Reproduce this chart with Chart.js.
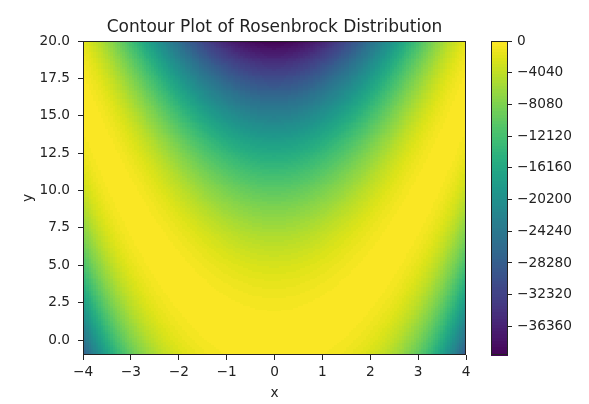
<!DOCTYPE html>
<html>
<head>
<meta charset="utf-8">
<script src="https://cdn.jsdelivr.net/npm/chart.js@4/dist/chart.umd.min.js"></script>
<style>
  html,body{margin:0;padding:0;background:#fff;}
  #wrap{width:589px;height:404px;position:relative;}
</style>
</head>
<body>
<div id="wrap"><canvas id="c" width="589" height="404"></canvas></div>
<script>
// ---- data ----
const chartTitle = "Contour Plot of Rosenbrock Distribution";
const xLabel = "x";
const yLabel = "y";
const xRange = [-4, 4];
const yRange = [-1, 20];
const xTicks = [-4, -3, -2, -1, 0, 1, 2, 3, 4];
const yTicks = [0, 2.5, 5, 7.5, 10, 12.5, 15, 17.5, 20];
const cbTicks = [0, -4040, -8080, -12120, -16160, -20200, -24240, -28280, -32320, -36360];
const cbRange = [-40001, 0];
const rosenA = 1;
const rosenB = 100;
const gridNX = 160;
const gridNY = 168;
const nLevels = 100;

// viridis palette (colour map)
const viridis = ["#440154","#481467","#482576","#453781","#404688","#39558c","#33638d","#2d718e","#287d8e","#238a8d","#1f968b","#20a386","#29af7f","#3dbc74","#56c667","#75d054","#95d840","#bade28","#dde318","#fde725"];

// grid of the plotted surface: z = -((a-x)^2 + b(y-x^2)^2)
const surface = [];
for (let j = 0; j < gridNY; j++) {
  for (let i = 0; i < gridNX; i++) {
    const x = xRange[0] + (xRange[1] - xRange[0]) * i / (gridNX - 1);
    const y = yRange[0] + (yRange[1] - yRange[0]) * j / (gridNY - 1);
    const z = -((rosenA - x) ** 2 + rosenB * (y - x * x) ** 2);
    surface.push({x, y, z});
  }
}

function hex2rgb(h){return [parseInt(h.substr(1,2),16),parseInt(h.substr(3,2),16),parseInt(h.substr(5,2),16)];}
const vir = viridis.map(hex2rgb);
function cmap(t){
  t = Math.max(0, Math.min(1, t));
  const p = t * (vir.length - 1);
  const k = Math.min(vir.length - 2, Math.floor(p));
  const f = p - k;
  const a = vir[k], b = vir[k+1];
  return `rgb(${Math.round(a[0]+(b[0]-a[0])*f)},${Math.round(a[1]+(b[1]-a[1])*f)},${Math.round(a[2]+(b[2]-a[2])*f)})`;
}
function levelColor(z){
  const t = (z - cbRange[0]) / (cbRange[1] - cbRange[0]);
  let lv = Math.floor(t * nLevels);
  lv = Math.max(0, Math.min(nLevels - 1, lv));
  return cmap((lv + 0.5) / nLevels);
}
const levelColors = [];
for (let l = 0; l < nLevels; l++) levelColors.push(cmap((l + 0.5) / nLevels));

const FONT = "'DejaVu Sans', sans-serif";
const TXT = "#222";
const tickFont = {family: FONT, size: 13.7};

const heatmapPlugin = {
  id: 'heatmap',
  beforeDatasetsDraw(chart){
    const ctx = chart.ctx, xs = chart.scales.x, ys = chart.scales.y, ca = chart.chartArea;
    const data = chart.data.datasets[0].data;
    const dx = (xRange[1] - xRange[0]) / (gridNX - 1) / 2;
    const dy = (yRange[1] - yRange[0]) / (gridNY - 1) / 2;
    ctx.save();
    ctx.beginPath(); ctx.rect(ca.left, ca.top, ca.width, ca.height); ctx.clip();
    for (const p of data) {
      const x0 = xs.getPixelForValue(p.x - dx), x1 = xs.getPixelForValue(p.x + dx);
      const y0 = ys.getPixelForValue(p.y + dy), y1 = ys.getPixelForValue(p.y - dy);
      ctx.fillStyle = levelColor(p.z);
      ctx.fillRect(Math.floor(x0), Math.floor(y0), Math.ceil(x1 - x0) + 1, Math.ceil(y1 - y0) + 1);
    }
    ctx.restore();
    // frame
    ctx.save();
    ctx.strokeStyle = '#222'; ctx.lineWidth = 1;
    ctx.strokeRect(ca.left + 0.5, ca.top + 0.5, ca.width - 1, ca.height - 1);
    ctx.restore();
    // colorbar
    const cb = chart.scales.cb;
    const w = 17, L = cb.left - w;
    ctx.save();
    for (let l = 0; l < nLevels; l++) {
      const v0 = cbRange[0] + (cbRange[1] - cbRange[0]) * l / nLevels;
      const v1 = cbRange[0] + (cbRange[1] - cbRange[0]) * (l + 1) / nLevels;
      const p0 = cb.getPixelForValue(v0), p1 = cb.getPixelForValue(v1);
      ctx.fillStyle = levelColors[l];
      ctx.fillRect(L, Math.floor(p1), w, Math.ceil(p0 - p1) + 1);
    }
    ctx.strokeStyle = '#222'; ctx.lineWidth = 1;
    ctx.strokeRect(L + 0.5, cb.top + 0.5, w - 1, cb.bottom - cb.top - 1);
    ctx.restore();
  },
  afterDraw(chart){
    const ctx = chart.ctx, ca = chart.chartArea;
    ctx.save();
    ctx.fillStyle = TXT;
    ctx.font = `17px ${FONT}`;
    ctx.textAlign = 'center';
    ctx.textBaseline = 'alphabetic';
    ctx.fillText(chartTitle, (ca.left + ca.right) / 2, 32);
    ctx.restore();
  }
};

const fmtMinus = v => (v < 0 ? '\u2212' + Math.abs(v) : String(v));

new Chart(document.getElementById('c'), {
  type: 'scatter',
  data: {datasets: [{data: surface, pointRadius: 0, pointHitRadius: 0, showLine: false}]},
  plugins: [heatmapPlugin],
  options: {
    responsive: false,
    animation: false,
    events: [],
    layout: {padding: {left: 0, top: 41, right: 11, bottom: 0}},
    plugins: {legend: {display: false}, tooltip: {enabled: false}, title: {display: false}},
    scales: {
      x: {
        type: 'linear', position: 'bottom', min: xRange[0], max: xRange[1],
        afterBuildTicks: s => { s.ticks = xTicks.map(v => ({value: v})); },
        afterFit: s => { s.height = 49; },
        ticks: {font: tickFont, color: TXT, padding: 4, maxRotation: 0, autoSkip: false, callback: v => fmtMinus(v)},
        grid: {display: true, drawOnChartArea: false, drawTicks: true, tickLength: 5, color: '#222'},
        border: {display: false},
        title: {display: true, text: xLabel, font: tickFont, color: TXT, padding: {top: 0, bottom: 2}}
      },
      y: {
        type: 'linear', position: 'left', min: yRange[0], max: yRange[1],
        afterBuildTicks: s => { s.ticks = yTicks.map(v => ({value: v})); },
        afterFit: s => { s.width = 83; },
        ticks: {font: tickFont, color: TXT, padding: 8, autoSkip: false, callback: v => v.toFixed(1)},
        grid: {display: true, drawOnChartArea: false, drawTicks: true, tickLength: 5, color: '#222'},
        border: {display: false},
        title: {display: true, text: yLabel, font: tickFont, color: TXT, padding: {top: 20, bottom: 0}}
      },
      sp: {
        type: 'linear', position: 'right', axis: 'y', weight: 0,
        afterFit: s => { s.width = 42; },
        ticks: {display: false}, grid: {display: false}, border: {display: false}
      },
      cb: {
        type: 'linear', position: 'right', axis: 'y', weight: 1, min: cbRange[0], max: cbRange[1],
        afterBuildTicks: s => { s.ticks = cbTicks.map(v => ({value: v})); },
        afterFit: s => { s.width = 70; },
        ticks: {font: tickFont, color: TXT, padding: 5, autoSkip: false, callback: v => fmtMinus(v)},
        grid: {display: true, drawOnChartArea: false, drawTicks: true, tickLength: 4, color: '#222'},
        border: {display: false}
      }
    }
  }
});
</script>
</body>
</html>
